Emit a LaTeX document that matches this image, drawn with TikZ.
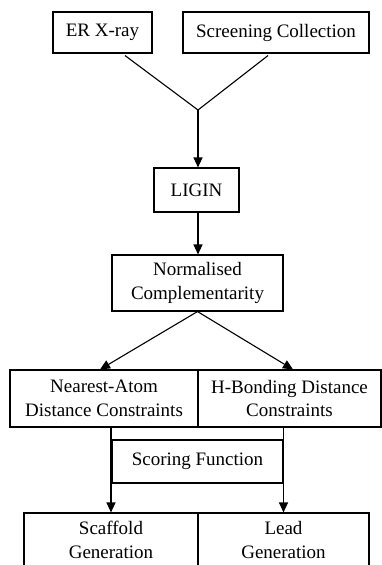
\documentclass[tikz,border=0pt]{standalone}
\usepackage{fontspec}
\setmainfont{Liberation Serif}
\usetikzlibrary{arrows.meta,calc}
\begin{document}
\begin{tikzpicture}[x=1pt,y=-1pt,
  box/.style={draw=black,line width=1.1pt,inner sep=0pt,align=center,
    font=\fontsize{19}{23.5}\selectfont},
  conn/.style={draw=black,line width=1.1pt},
  arr/.style={conn,-{Triangle[length=10pt,width=9pt]}}]
\useasboundingbox[fill=white] (0,0) rectangle (382,565);
\node[box,minimum width=99pt,minimum height=41pt] (er) at (102.5,32.5) {ER X-ray};
\node[box,minimum width=186pt,minimum height=41pt] (sc) at (276,32.5) {Screening Collection};
\node[box,minimum width=85pt,minimum height=44pt] (ligin) at (196.5,190) {LIGIN};
\node[box,minimum width=171pt,minimum height=56pt] (norm) at (197.5,283) {Normalised\\Complementarity};
\node[box,minimum width=188pt,minimum height=57pt] (na) at (104,398.5) {Nearest-Atom\\Distance Constraints};
\node[box,minimum width=183pt,minimum height=57pt] (hb) at (289.5,398.5) {H-Bonding Distance\\Constraints};
\node[box,minimum width=171pt,minimum height=43pt] (sf) at (197.5,461.5) {Scoring Function};
\node[box,minimum width=174pt,minimum height=54pt] (scaf) at (111,540) {Scaffold\\Generation};
\node[box,minimum width=171pt,minimum height=54pt] (lead) at (283.5,540) {Lead\\Generation};
\coordinate (J) at (198,110);
\draw[conn] ([xshift=22.5pt,yshift=-2pt]er.south) -- (J);
\draw[conn] ([xshift=-8pt,yshift=-2pt]sc.south) -- (J);
\draw[arr] (J) -- (J |- ligin.north);
\draw[arr] (ligin.south -| J) -- (J |- norm.north);
\draw[arr] (norm.south) -- ([xshift=-4pt]na.north);
\draw[arr] (norm.south) -- ([xshift=3.5pt]hb.north);
\draw[arr] (scaf.north |- na.south) -- (scaf.north);
\draw[arr] (lead.north |- hb.south) -- (lead.north);
\end{tikzpicture}
\end{document}
